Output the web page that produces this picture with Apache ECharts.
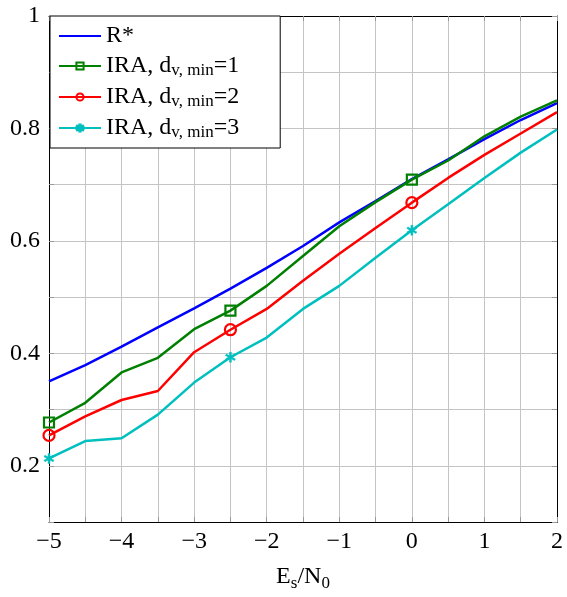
<!DOCTYPE html>
<html>
<head>
<meta charset="utf-8">
<script src="https://cdn.jsdelivr.net/npm/echarts@6/dist/echarts.min.js"></script>
<style>
html,body{margin:0;padding:0;background:#fff;}
#chart{width:567px;height:597px;}
</style>
</head>
<body>
<div id="chart"></div>
<script>
const snr = [-5, -4.5, -4, -3.5, -3, -2.5, -2, -1.5, -1, -0.5, 0, 0.5, 1, 1.5, 2];
const rStar = [0.350, 0.379, 0.412, 0.446, 0.480, 0.515, 0.552, 0.591, 0.633, 0.671, 0.710, 0.745, 0.781, 0.815, 0.845];
const ira1 = [0.277, 0.312, 0.366, 0.392, 0.443, 0.476, 0.520, 0.573, 0.626, 0.669, 0.709, 0.743, 0.786, 0.821, 0.850];
const ira2 = [0.254, 0.288, 0.317, 0.333, 0.402, 0.442, 0.479, 0.529, 0.577, 0.623, 0.668, 0.712, 0.753, 0.791, 0.829];
const ira3 = [0.213, 0.244, 0.249, 0.291, 0.348, 0.393, 0.428, 0.479, 0.520, 0.570, 0.619, 0.665, 0.712, 0.757, 0.798];
const markerIdx = [0, 5, 10];
const xTicks = [-5, -4, -3, -2, -1, 0, 1, 2];
const yTicks = [0.2, 0.4, 0.6, 0.8, 1];

const FONT = 'Liberation Serif';
const asterisk = 'path://M-0.18,1L0.18,1L0.18,-1L-0.18,-1ZM0.776,0.656L0.956,0.344L-0.776,-0.656L-0.956,-0.344ZM-0.956,0.344L-0.776,0.656L0.956,-0.344L0.776,-0.656Z';

function mk(vals) {
  return snr.map((x, i) => markerIdx.includes(i) ? [x, vals[i]] : {value: [x, vals[i]], symbol: 'none'});
}

const names = {
  'R*': '{a|R*}',
  'IRA1': '{a|IRA, d}{s|v, min}{a|=1}',
  'IRA2': '{a|IRA, d}{s|v, min}{a|=2}',
  'IRA3': '{a|IRA, d}{s|v, min}{a|=3}'
};

const chart = echarts.init(document.getElementById('chart'), null, {renderer: 'canvas'});
const gridColor = '#c4c4c4';
const tickStyle = {show: true, inside: true, length: 5, lineStyle: {color: '#999'}};
chart.setOption({
  animation: false,
  backgroundColor: '#fff',
  grid: {left: 49, right: 10, top: 16, bottom: 74, containLabel: false},
  xAxis: [{
    type: 'value', min: -5, max: 2, interval: 0.5,
    axisLine: {show: true, onZero: false, lineStyle: {color: '#000', width: 1}},
    axisTick: tickStyle,
    splitLine: {show: true, lineStyle: {color: gridColor, width: 1}},
    axisLabel: {
      fontFamily: FONT, fontSize: 24, color: '#000', margin: 8,
      formatter: v => {
        const r = Math.round(v * 10) / 10;
        if (!xTicks.includes(r)) return '';
        return r < 0 ? '\u2212' + Math.abs(r) : String(r);
      }
    },
    name: '{a|E}{s|s}{a|/N}{s|0}',
    nameLocation: 'middle', nameGap: 40,
    nameTextStyle: {
      fontFamily: FONT, color: '#000',
      rich: {
        a: {fontFamily: FONT, fontSize: 24, color: '#000', lineHeight: 30},
        s: {fontFamily: FONT, fontSize: 17, color: '#000', lineHeight: 14, verticalAlign: 'bottom'}
      }
    }
  }, {
    type: 'value', min: -5, max: 2, interval: 0.5, position: 'top',
    axisLine: {show: true, onZero: false, lineStyle: {color: '#000', width: 1}},
    axisTick: tickStyle,
    splitLine: {show: false}, axisLabel: {show: false}
  }],
  yAxis: [{
    type: 'value', min: 0.1, max: 1, interval: 0.1,
    axisLine: {show: true, onZero: false, lineStyle: {color: '#000', width: 1}},
    axisTick: tickStyle,
    splitLine: {show: true, lineStyle: {color: gridColor, width: 1}},
    axisLabel: {
      fontFamily: FONT, fontSize: 24, color: '#000', margin: 9,
      formatter: v => {
        const r = Math.round(v * 10) / 10;
        if (!yTicks.includes(r)) return '';
        return String(r);
      }
    }
  }, {
    type: 'value', min: 0.1, max: 1, interval: 0.1, position: 'right',
    axisLine: {show: true, onZero: false, lineStyle: {color: '#000', width: 1}},
    axisTick: tickStyle,
    splitLine: {show: false}, axisLabel: {show: false}
  }],
  legend: {
    orient: 'vertical', left: 50, top: 16,
    backgroundColor: '#fff', borderColor: '#000', borderWidth: 1, borderRadius: 0,
    padding: [8, 41, 7, 8], itemGap: 6, itemWidth: 42, itemHeight: 9,
    data: [{name: 'R*', itemStyle: {opacity: 0}}, 'IRA1', 'IRA2', 'IRA3'],
    formatter: n => names[n],
    textStyle: {
      fontFamily: FONT, color: '#000',
      rich: {
        a: {fontFamily: FONT, fontSize: 24, color: '#000', lineHeight: 26},
        s: {fontFamily: FONT, fontSize: 17, color: '#000', lineHeight: 10, verticalAlign: 'bottom'}
      }
    }
  },
  series: [{
    name: 'R*', type: 'line', data: snr.map((x, i) => [x, rStar[i]]),
    symbol: 'none', lineStyle: {color: '#0000ff', width: 2.5}, itemStyle: {color: '#0000ff'}
  }, {
    name: 'IRA1', type: 'line', data: mk(ira1),
    symbol: 'rect', symbolSize: 10,
    lineStyle: {color: '#008000', width: 2.5},
    itemStyle: {color: 'rgba(255,255,255,0)', borderColor: '#008000', borderWidth: 2.2}
  }, {
    name: 'IRA2', type: 'line', data: mk(ira2),
    symbol: 'circle', symbolSize: 11,
    lineStyle: {color: '#ff0000', width: 2.5},
    itemStyle: {color: 'rgba(255,255,255,0)', borderColor: '#ff0000', borderWidth: 2.2}
  }, {
    name: 'IRA3', type: 'line', data: mk(ira3),
    symbol: asterisk, symbolSize: 10,
    lineStyle: {color: '#00bfbf', width: 2.5},
    itemStyle: {color: '#00bfbf', borderColor: '#00bfbf', borderWidth: 0.5}
  }]
});
</script>
</body>
</html>
